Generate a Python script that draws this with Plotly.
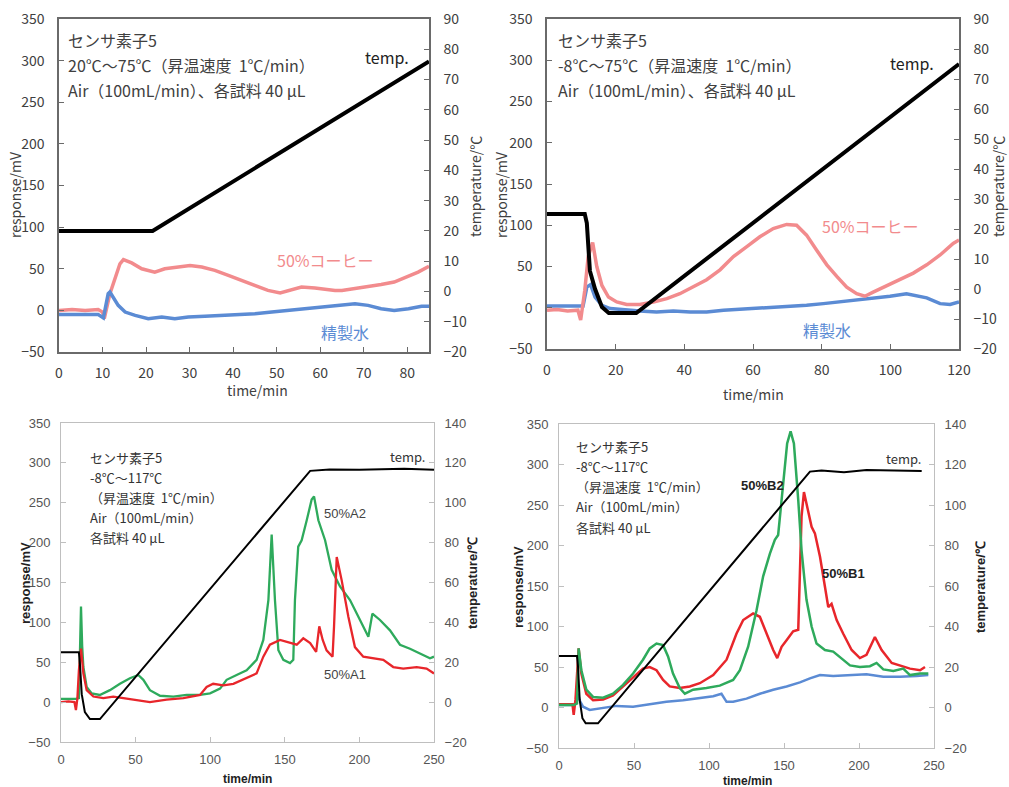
import plotly.graph_objects as go

W, H = 1009, 787

# ---------------- data ----------------
# Top-left: sensor 5, 20-75 C
tl_pink_t = [0,3,6,9,10,10.4,11.7,12.9,14,14.8,16.7,19,22,24.3,27.4,30.1,32.8,35.8,38.9,41.8,44.9,48,50.8,52.7,55.7,58.8,60.3,63.4,65,68,71,74,77,80,82.5,85]
tl_pink_v = [0,1,0,1,-2,-10,20,40,56,61,57,50,46,50,52,54,52,48,42,36,30,24,21,24,28,27,26,24,24,26,29,31,34,40,46,53]
tl_blue_t = [0,3,6,9,10.2,11.3,11.7,12.5,13.6,15.2,17.5,20.5,23.6,26.6,29.7,33.5,37.4,41.2,45,48.9,52.7,56.5,60.4,64.2,68,71,74,77,80.3,83.3,85]
tl_blue_v = [-5,-5,-6,-5,-9,20,22,16,6,-2,-6,-10,-8,-10,-8,-7,-6,-4,-4,-2,0,2,4,6,8,6,2,0,2,5,5]
tl_temp_t = [0,21.5,85]
tl_temp_v = [20,20,76]

# Top-right: sensor 5, -8-75 C
tr_pink_t = [0,3,6,9,9.8,11,12,13.3,14.5,16,17.9,20.3,23.2,27,31,34.9,38.7,42.6,46.5,50.4,54.3,58.2,62,65.9,69.8,72.7,75.6,78.5,81.5,84.4,87.3,90.2,92.6,95,98.9,102.8,106.7,110.6,114.5,118.3,120]
tr_pink_v = [-3,-2,-4,-3,-15,21,62,79,50,27,13,7,4,4,7,11,17,25,34,46,62,74,86,96,101,100,88,70,52,38,25,17,14,19,27,34,42,52,64,78,82]
tr_blue_t = [0,3,6,9,10.5,11.6,12.7,14,16,18.4,23.2,27,31.9,36.8,41.7,46.5,51.4,56.2,61.1,65.9,70.8,75.6,80.5,85.3,90.2,95,99.9,104.7,107.6,110.6,114.5,117.4,120]
tr_blue_v = [2,2,3,2,2,25,28,13,3,-1,-3,-4,-5,-4,-5,-5,-3,-2,-1,1,2,3,5,7,10,12,14,17,15,12,5,4,7]
tr_temp_t = [0,11,11.6,12.5,14,16,18,26,120]
tr_temp_v = [25,25,22,6,0,-6,-8,-8,75]

# Bottom-left: 50%A1 / 50%A2
bl_green_t = [0,5,10,12,12.6,13.4,14.2,15,17.2,20.6,26,32.8,39.5,46.2,51.8,55.2,59.6,66.4,75.3,84.2,93.2,99.9,106.6,111,117.7,124.4,131.1,135.6,139,141.2,143.4,145.7,149,153.5,155.7,156.8,159,161.3,164.7,168,169.6,172.5,177,181.4,187,193.7,200.4,206,208.7,213.8,220.5,227.2,233.9,240.6,247.3,250]
bl_green_v = [4,4,4,5,60,120,70,44,19,11,9,15,23,30,34,28,15,8,7,9,9,11,17,28,34,40,53,78,128,210,128,65,53,49,53,128,195,203,228,254,258,228,203,166,145,128,103,82,111,103,90,72,67,61,55,57]
bl_red_t = [0,5,9,10,11,12,13.4,15,17.2,21.7,28.4,35,41.8,48.5,59.6,70.8,82,93.2,97.6,102,108.8,115.5,124.4,131.1,135.6,140,146.8,153.5,158,162.4,167,171,173.1,175.4,178,182,183,184.8,188.1,192.6,197,202.6,209.3,216,222.7,229.4,238.4,245,250]
bl_red_v = [0,1,0,-10,5,40,67,36,15,7,5,7,5,3,0,3,5,9,19,23,21,23,30,36,57,72,78,74,72,80,74,63,95,78,65,57,95,182,153,107,69,57,55,53,44,42,44,42,36]
bl_temp_t = [0,12,12.7,13.9,16,19.4,26.1,167,180,200,215,230,250]
bl_temp_v = [25,25,19,4,-5,-8.5,-8.5,116,116.7,116.5,116.8,117,116.5]

# Bottom-right: 50%B1 / 50%B2 / blank
br_green_t = [0,5,10,12,13.1,14.9,18.2,22.7,29.4,36,42.7,49.4,56,60.5,65,69.4,72.7,76,80.5,83.9,89.4,98.3,107.2,116.1,120.6,126.1,131.7,136.1,140.6,143.9,146.1,149.5,152.1,154.4,156.6,159.5,161.7,165,168.4,171.7,177.3,182.8,189.5,194,200.6,207.3,211.7,216.2,222.9,229.5,234,240.7,246.2]
br_green_v = [3,3,3,5,73,46,22,13,12,17,28,42,59,73,79,77,63,42,24,17,22,24,27,34,46,75,120,162,190,207,213,277,326,341,326,256,194,133,100,79,71,69,59,52,50,51,55,47,45,48,40,42,42]
br_red_t = [0,5,9,9.8,11,12,13.1,14.9,18.2,22.7,29.4,36,42.7,49.4,56,60.5,65,69.4,73.8,80.5,87.2,93.9,102.8,111.7,118.3,122.8,129.4,133.9,138.3,142.8,145.5,148.4,151.7,156.1,159.5,160.6,161.7,163.3,166.1,168.4,170.6,174,177.3,179.5,181.7,185.1,189.5,195.1,200.6,205,210.6,215.1,221.8,227.3,234,240.7,244]
br_red_v = [4,4,4,-9,10,40,73,42,17,9,10,15,26,38,48,50,46,34,26,24,26,30,40,59,91,108,116,112,91,71,61,75,83,94,96,174,236,266,244,223,215,186,149,124,128,108,91,71,61,65,87,71,55,52,48,46,50]
br_blue_t = [0,5,10,11.5,12.7,14,16,20.5,27.1,38.3,49.4,60.5,71.6,82.7,93.9,102.8,108.3,111.7,116.1,125,133.9,142.8,151.7,160.6,167.3,174,182.8,194,205,216.2,227.3,238.5,246.2]
br_blue_v = [3,3,3,5,17,8,1,-3,-1,2,1,4,7,9,12,14,17,7,7,11,17,22,26,31,36,40,39,40,41,38,38,39,40]
br_temp_t = [0,12,12.7,13.8,15.6,17.8,26,167.3,175,190,205,220,241.8]
br_temp_v = [25.4,25.4,20,3.7,-5.3,-7.8,-7.8,116.5,117,116.2,117.3,117,116.8]

PINK = "#f28b8d"
BLUE = "#5b8bd4"
GREEN = "#2eaa5c"
RED = "#e8262b"

fig = go.Figure()

def line(t, v, color, width, xa, ya):
    fig.add_trace(go.Scatter(x=t, y=v, mode="lines", line=dict(color=color, width=width),
                             xaxis=xa, yaxis=ya, showlegend=False, hoverinfo="skip"))

# TL
line(tl_pink_t, tl_pink_v, PINK, 3.5, "x", "y")
line(tl_blue_t, tl_blue_v, BLUE, 3.5, "x", "y")
line(tl_temp_t, tl_temp_v, "black", 4, "x", "y2")
# TR
line(tr_blue_t, tr_blue_v, BLUE, 3.5, "x2", "y3")
line(tr_pink_t, tr_pink_v, PINK, 3.5, "x2", "y3")
line(tr_temp_t, tr_temp_v, "black", 4, "x2", "y4")
# BL
line(bl_green_t, bl_green_v, GREEN, 2.3, "x3", "y5")
line(bl_red_t, bl_red_v, RED, 2.3, "x3", "y5")
line(bl_temp_t, bl_temp_v, "black", 2, "x3", "y6")
# BR
line(br_blue_t, br_blue_v, BLUE, 2.5, "x4", "y7")
line(br_red_t, br_red_v, RED, 2.5, "x4", "y7")
line(br_green_t, br_green_v, GREEN, 2.5, "x4", "y7")
line(br_temp_t, br_temp_v, "black", 2, "x4", "y8")

def dom_x(a, b):
    return [a / W, b / W]

def dom_y(top, bottom):
    return [1 - bottom / H, 1 - top / H]

TOPFONT = dict(family="Noto Sans CJK JP", size=14, color="#404040")
BOTFONT = dict(family="Liberation Sans", size=13, color="#555555")

def xax(domain, anchor, rng, dtick, top):
    return dict(domain=domain, anchor=anchor, range=rng, dtick=dtick, tick0=0,
                showgrid=False, zeroline=False, showline=True, mirror=True,
                linecolor="#6a6a6a" if top else "#bfbfbf", linewidth=1.5 if top else 1,
                ticks="inside", ticklen=5, tickcolor="#6a6a6a" if top else "#bfbfbf",
                tickfont=TOPFONT if top else BOTFONT, ticklabelstandoff=7 if top else 5)

def yax(domain, anchor, rng, dtick, top, right=False, overlay=None):
    d = dict(domain=domain, anchor=anchor, range=rng, dtick=dtick, tick0=0,
             showgrid=False, zeroline=False, showline=True, mirror=not right,
             linecolor="#6a6a6a" if top else "#bfbfbf", linewidth=1.5 if top else 1,
             ticks="inside", ticklen=5, tickcolor="#6a6a6a" if top else "#bfbfbf",
             tickfont=TOPFONT if top else BOTFONT, ticklabelstandoff=10 if top else 7)
    if right:
        d.update(side="right", overlaying=overlay)
    return d

layout = dict(
    width=W, height=H, margin=dict(l=0, r=0, t=0, b=0, autoexpand=False),
    paper_bgcolor="white", plot_bgcolor="white",
    xaxis=xax(dom_x(59, 429), "y", [0, 85], 10, True),
    yaxis=yax(dom_y(19, 352), "x", [-50, 350], 50, True),
    yaxis2=yax(dom_y(19, 352), "x", [-20, 90], 10, True, True, "y"),
    xaxis2=xax(dom_x(547, 959), "y3", [0, 120], 20, True),
    yaxis3=yax(dom_y(19, 349), "x2", [-50, 350], 50, True),
    yaxis4=yax(dom_y(19, 349), "x2", [-20, 90], 10, True, True, "y3"),
    xaxis3=xax(dom_x(61, 434), "y5", [0, 250], 50, False),
    yaxis5=yax(dom_y(423, 742), "x3", [-50, 350], 50, False),
    yaxis6=yax(dom_y(423, 742), "x3", [-20, 140], 20, False, True, "y5"),
    xaxis4=xax(dom_x(559, 934), "y7", [0, 250], 50, False),
    yaxis7=yax(dom_y(424, 748), "x4", [-50, 350], 50, False),
    yaxis8=yax(dom_y(424, 748), "x4", [-20, 140], 20, False, True, "y7"),
)
fig.update_layout(**layout)

ann = []

def A(text, x, y, size, color="#404040", family="Noto Sans CJK JP", xanchor="center", angle=0, bold=False):
    if bold:
        text = "<b>" + text + "</b>"
    ann.append(dict(text=text, x=x / W, y=1 - y / H, xref="paper", yref="paper",
                    xanchor=xanchor, yanchor="middle", showarrow=False, textangle=angle,
                    font=dict(family=family, size=size, color=color)))

# info texts
tl_lines = ["センサ素子5", "20℃～75℃（昇温速度&nbsp; 1℃/min）", "Air（100mL/min）、各試料 40 μL"]
for i, s in enumerate(tl_lines):
    A(s, 66, 40 + 25 * i, 16, xanchor="left")
tr_lines = ["センサ素子5", "-8℃～75℃（昇温速度&nbsp; 1℃/min）", "Air（100mL/min）、各試料 40 μL"]
for i, s in enumerate(tr_lines):
    A(s, 556, 40 + 25 * i, 16, xanchor="left")
bot_lines = ["センサ素子5", "-8℃～117℃", "（昇温速度&nbsp; 1℃/min）", "Air（100mL/min）", "各試料 40 μL"]
for i, s in enumerate(bot_lines):
    A(s, 88, 457 + 20 * i, 13, color="#333333", xanchor="left")
    A(s, 574, 447 + 20 * i, 13, color="#333333", xanchor="left")

# series labels
A("temp.", 387, 57, 16, color="#222222")
A("temp.", 912, 63, 16, color="#222222")
A("50%コーヒー", 325, 260, 16, color=PINK)
A("50%コーヒー", 870, 226, 16, color=PINK)
A("精製水", 345, 332, 16, color=BLUE)
A("精製水", 827, 330, 16, color=BLUE)
A("temp.", 407, 456, 13, color="#333333")
A("temp.", 903, 458, 13, color="#333333")
A("50%A2", 345, 513, 13, color="#444444", family="Liberation Sans")
A("50%A1", 345, 674, 13, color="#444444", family="Liberation Sans")
A("50%B2", 762, 485, 13, color="#222222", family="Liberation Sans", bold=True)
A("50%B1", 843, 573, 13, color="#222222", family="Liberation Sans", bold=True)

# axis titles
A("response/mV", 15, 195, 14, color="#404040", angle=-90)
A("temperature/℃", 475, 187, 14, color="#404040", angle=-90)
A("time/min", 257, 390, 14, color="#404040")
A("response/mV", 501, 195, 14, color="#404040", angle=-90)
A("temperature/℃", 998, 187, 14, color="#404040", angle=-90)
A("time/min", 753, 394, 14, color="#404040")
A("response/mV", 25, 583, 13, color="#222222", family="Liberation Sans", angle=-90, bold=True)
A("temperature/℃", 472, 583, 13, color="#222222", family="Liberation Sans", angle=-90, bold=True)
A("time/min", 247, 779, 12, color="#222222", family="Liberation Sans", bold=True)
A("response/mV", 518, 587, 13, color="#222222", family="Liberation Sans", angle=-90, bold=True)
A("temperature/℃", 980, 587, 13, color="#222222", family="Liberation Sans", angle=-90, bold=True)
A("time/min", 747, 781, 12, color="#222222", family="Liberation Sans", bold=True)

fig.update_layout(annotations=ann)
fig.write_html("out.html")
